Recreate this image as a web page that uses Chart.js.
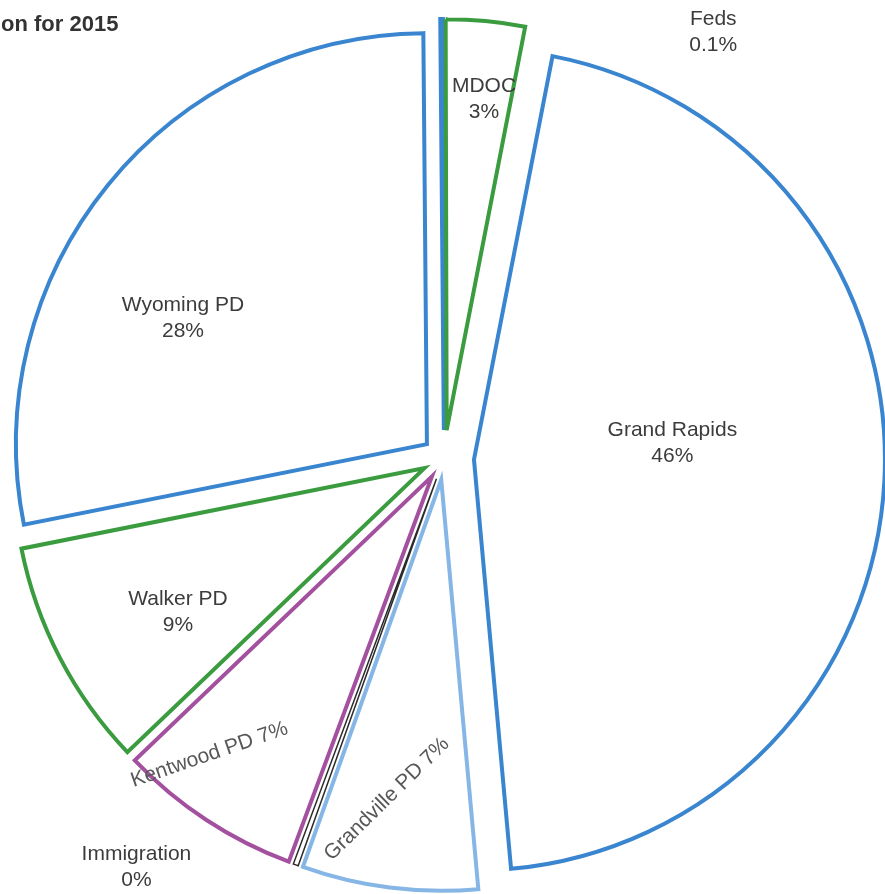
<!DOCTYPE html>
<html>
<head>
<meta charset="utf-8">
<script src="https://cdn.jsdelivr.net/npm/chart.js@4.4.0/dist/chart.umd.min.js"></script>
<style>
  html, body { margin: 0; padding: 0; background: #fff; overflow: hidden; }
  #wrap { position: relative; width: 885px; height: 894px; overflow: hidden; }
  #myChart { position: absolute; left: 0; top: 0; }
  .title { position: absolute; left: 1px; top: 10px; font: bold 22px 'Liberation Sans', Arial, sans-serif; color: #333; line-height: 28px; }
</style>
</head>
<body>
<div id="wrap">
  <canvas id="myChart" width="888" height="916"></canvas>
  <div class="title">on for 2015</div>
</div>
<script>
// agencies, clockwise from 12 o'clock
const agencies = ['Feds', 'MDOC', 'Grand Rapids', 'Grandville PD', 'Immigration', 'Kentwood PD', 'Walker PD', 'Wyoming PD'];
const shares = [0.1, 3.1, 45.5, 6.9, 0.2, 7.2, 9.0, 28.0];
const shareLabels = ['0.1%', '3%', '46%', '7%', '0%', '7%', '9%', '28%'];

const outlineColors = ['#3a85d0', '#3a9b3f', '#3a85d0', '#86b6e6', '#2b2b2b', '#a3519e', '#3a9b3f', '#3a85d0'];
const outlineWidths = [4, 4, 4, 4, 1.5, 4, 4, 4];

// pull each slice out from the middle (exploded pie)
const explodePlugin = {
    id: 'explode',
    beforeDatasetsDraw(chart, args, opts) {
        const ctx = chart.ctx;
        chart.getDatasetMeta(0).data.forEach((arc, i) => {
            const mid = (arc.startAngle + arc.endAngle) / 2;
            const d = opts.distance[i] || 0;
            ctx.save();
            ctx.translate(Math.cos(mid) * d, Math.sin(mid) * d);
            arc.draw(ctx);
            ctx.restore();
        });
        return false;
    }
};

// slice labels (name + percent)
const sliceLabels = {
    id: 'sliceLabels',
    afterDraw(chart, args, opts) {
        const ctx = chart.ctx;
        const names = chart.data.labels;
        chart.getDatasetMeta(0).data.forEach((arc, i) => {
            const s = opts.spots[i];
            const mid = (arc.startAngle + arc.endAngle) / 2;
            const a = mid + s.turn * Math.PI / 180;
            const r = arc.outerRadius * s.dist;
            ctx.save();
            ctx.translate(arc.x + Math.cos(a) * r, arc.y + Math.sin(a) * r);
            ctx.rotate((s.rot || 0) * Math.PI / 180);
            ctx.font = opts.font;
            ctx.fillStyle = s.color || opts.color;
            ctx.textAlign = 'center';
            ctx.textBaseline = 'alphabetic';
            if (s.inline) {
                ctx.fillText(names[i] + ' ' + shareLabels[i], 0, 7.5);
            } else {
                ctx.fillText(names[i], 0, -13 + 7.5);
                ctx.fillText(shareLabels[i], 0, 13 + 7.5);
            }
            ctx.restore();
        });
    }
};

const ctx = document.getElementById('myChart').getContext('2d');
const myChart = new Chart(ctx, {
    type: 'pie',
    data: {
        labels: agencies,
        datasets: [{
            data: shares,
            backgroundColor: '#ffffff',
            borderColor: outlineColors,
            borderWidth: outlineWidths,
            borderJoinStyle: 'miter',
            radius: 411
        }]
    },
    options: {
        responsive: false,
        animation: false,
        rotation: -0.5,
        layout: { padding: 0 },
        plugins: {
            legend: { display: false },
            tooltip: { enabled: false },
            explode: { distance: [28, 28, 30, 22, 22, 22, 22, 22] },
            sliceLabels: {
                font: "21px 'Liberation Sans', Arial, sans-serif",
                color: '#3c3c3c',
                spots: [
                    { turn: 32.5, dist: 1.230 },
                    { turn: 0.9, dist: 0.882 },
                    { turn: -7.0, dist: 0.557 },
                    { turn: 2.5, dist: 0.839, rot: -44.5, inline: true, color: '#585858' },
                    { turn: 17.0, dist: 1.243 },
                    { turn: 5.2, dist: 0.918, rot: -19, inline: true, color: '#585858' },
                    { turn: -2.3, dist: 0.746 },
                    { turn: -10.7, dist: 0.722 }
                ]
            }
        }
    },
    plugins: [explodePlugin, sliceLabels]
});
</script>
</body>
</html>
